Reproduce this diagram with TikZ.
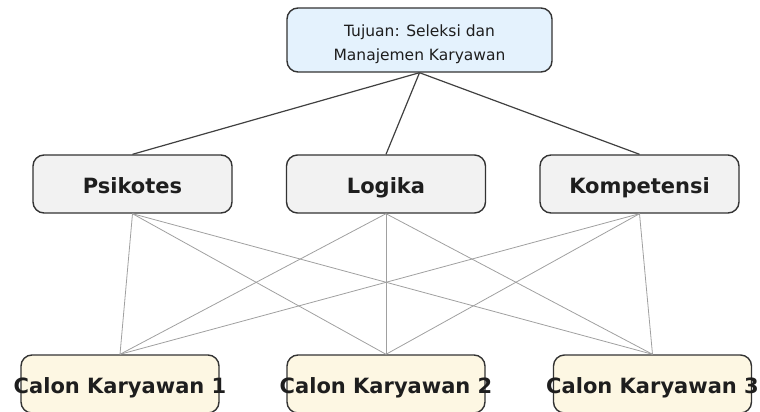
\documentclass[tikz,border=0pt]{standalone}
\usepackage{fontspec}
\setmainfont{DejaVu Sans}
\definecolor{topfill}{HTML}{E4F2FD}
\definecolor{midfill}{HTML}{F2F2F2}
\definecolor{botfill}{HTML}{FDF7E3}
\definecolor{boxline}{HTML}{333333}
\definecolor{txt}{HTML}{1E1E1E}
\definecolor{upedge}{HTML}{404040}
\definecolor{lowedge}{HTML}{A0A0A0}
\tikzset{
  basebox/.style={draw=boxline, line width=1.4pt, rounded corners=11pt, inner sep=0pt, text=txt, align=center},
  topbox/.style={basebox, fill=topfill, minimum width=265pt, minimum height=64pt,
    font=\fontsize{15.5}{23.3}\selectfont, text height=40pt, text depth=0pt},
  midbox/.style={basebox, fill=midfill, minimum width=199pt, minimum height=58pt,
    font=\fontsize{21}{25}\selectfont\bfseries, text height=18.4pt, text depth=0pt},
  botbox/.style={basebox, fill=botfill, minimum width=198pt, minimum height=58pt,
    font=\fontsize{21}{25}\selectfont\bfseries, text height=18.4pt, text depth=0pt},
  upline/.style={draw=upedge, line width=1.2pt},
  lowline/.style={draw=lowedge, line width=0.8pt},
}
\begin{document}
\begin{tikzpicture}[x=1pt,y=-1pt]
\useasboundingbox (0,0) rectangle (760,412);
\node[topbox] (goal) at (419.5,40) {Tujuan: Seleksi dan\\Manajemen Karyawan};
\node[midbox] (psi) at (132.5,184) {Psikotes};
\node[midbox] (log) at (386,184) {Logika};
\node[midbox] (kom) at (639.5,184) {Kompetensi};
\node[botbox] (c1) at (120,384) {\makebox[0pt][c]{Calon Karyawan 1}};
\node[botbox] (c2) at (386,384) {\makebox[0pt][c]{Calon Karyawan 2}};
\node[botbox] (c3) at (652.5,384) {\makebox[0pt][c]{Calon Karyawan 3}};
\foreach \m in {psi,log,kom}{
  \draw[upline] (goal.south) -- (\m.north);
  \foreach \c in {c1,c2,c3}{
    \draw[lowline] (\m.south) -- (\c.north);
  }
}
\end{tikzpicture}
\end{document}
